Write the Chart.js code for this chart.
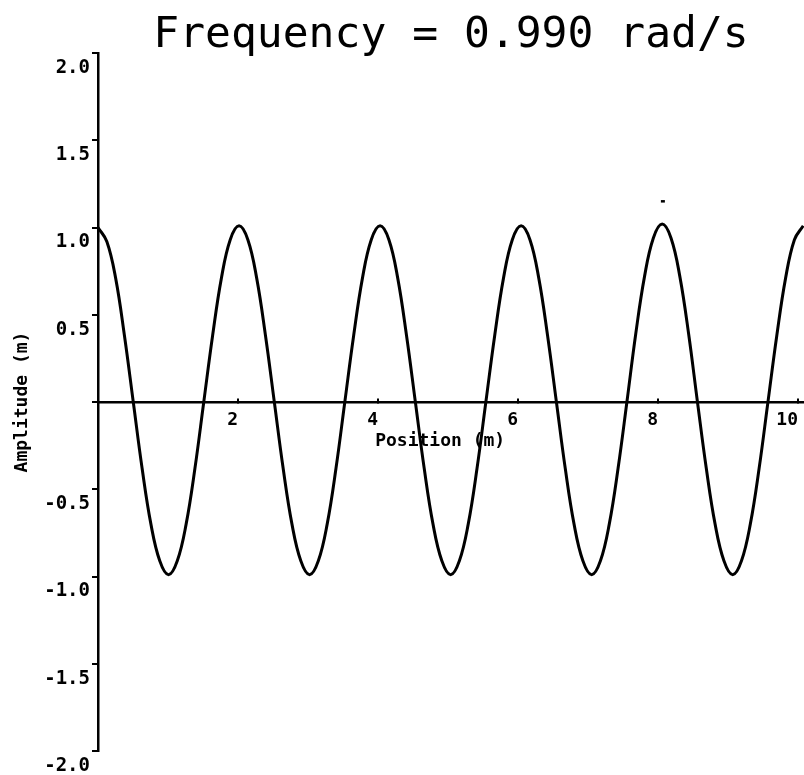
<!DOCTYPE html>
<html><head><meta charset="utf-8">
<script src="https://cdn.jsdelivr.net/npm/chart.js@4/dist/chart.umd.min.js"></script>
<style>html,body{margin:0;padding:0;background:#fff;} canvas{display:block;}</style>
</head><body>
<canvas id="c" width="804" height="775"></canvas>
<script>
const titleText = 'Frequency = 0.990 rad/s';
const xTitle = 'Position (m)  ';
const yTitle = 'Amplitude (m)';
const positions = [0, 0.126, 0.252, 0.378, 0.504, 0.630, 0.756, 0.882, 1.008, 1.133, 1.259, 1.385, 1.511, 1.637, 1.763, 1.889,
  2.015, 2.141, 2.267, 2.393, 2.519, 2.645, 2.771, 2.897, 3.023, 3.148, 3.274, 3.400, 3.526, 3.652, 3.778, 3.904,
  4.030, 4.156, 4.282, 4.408, 4.534, 4.660, 4.786, 4.912, 5.038, 5.163, 5.289, 5.415, 5.541, 5.667, 5.793, 5.919,
  6.045, 6.171, 6.297, 6.423, 6.549, 6.675, 6.801, 6.927, 7.053, 7.178, 7.304, 7.430, 7.556, 7.682, 7.808, 7.934,
  8.060, 8.186, 8.312, 8.438, 8.564, 8.690, 8.816, 8.942, 9.068, 9.193, 9.319, 9.445, 9.571, 9.697, 9.823, 9.949,
  10.075];
const amplitudes = [1.00, 0.92, 0.71, 0.38, 0.00, -0.38, -0.70, -0.91, -0.99, -0.91, -0.70, -0.38, 0.00, 0.38, 0.71, 0.93,
  1.01, 0.93, 0.71, 0.38, 0.00, -0.38, -0.70, -0.91, -0.99, -0.91, -0.70, -0.38, 0.00, 0.38, 0.71, 0.93,
  1.01, 0.93, 0.71, 0.38, 0.00, -0.38, -0.70, -0.91, -0.99, -0.91, -0.70, -0.38, 0.00, 0.38, 0.71, 0.93,
  1.01, 0.93, 0.71, 0.38, 0.00, -0.38, -0.70, -0.91, -0.99, -0.91, -0.70, -0.38, 0.00, 0.39, 0.72, 0.94,
  1.02, 0.94, 0.72, 0.39, 0.00, -0.38, -0.70, -0.91, -0.99, -0.91, -0.70, -0.38, 0.00, 0.38, 0.71, 0.93,
  1.01];
const strayX = [8.07];
const strayY = [1.15];
const xTickValues = [2, 4, 6, 8, 10];
const yTickValues = [-2, -1.5, -1, -0.5, 0, 0.5, 1, 1.5, 2];

const monoBold = (size) => ({family: 'DejaVu Sans Mono', size: size, weight: 'bold'});

new Chart(document.getElementById('c'), {
  type: 'line',
  data: {
    datasets: [
      {
        data: positions.map((x, i) => ({x: x, y: amplitudes[i]})),
        borderColor: '#000', borderWidth: 3, pointRadius: 0, pointHoverRadius: 0,
        tension: 0.4, fill: false
      },
      {
        data: strayX.map((x, i) => ({x: x, y: strayY[i]})),
        showLine: false, pointRadius: 2, pointHoverRadius: 0, pointStyle: 'line',
        backgroundColor: '#000', borderColor: '#000', borderWidth: 2.5
      }
    ]
  },
  options: {
    responsive: false, animation: false, devicePixelRatio: 1,
    events: [],
    layout: {autoPadding: false, padding: {left: 0, right: 0, top: 0, bottom: 24}},
    plugins: {
      legend: {display: false}, tooltip: {enabled: false},
      title: {display: true, fullSize: false, text: titleText, color: '#000',
        font: {family: 'DejaVu Sans Mono', size: 43, weight: 'normal', lineHeight: 1.0},
        padding: {top: 14, bottom: -4}}
    },
    scales: {
      x: {
        type: 'linear', min: 0, max: 10.086, position: {y: 0},
        afterBuildTicks: s => { s.ticks = xTickValues.map(v => ({value: v})); },
        afterFit: s => { s.paddingLeft = 0; s.paddingRight = 0; },
        grid: {drawOnChartArea: false, drawTicks: true, tickLength: -5, color: '#000', lineWidth: 2},
        border: {display: true, color: '#000', width: 2.5},
        ticks: {align: 'end', padding: 13, color: '#000', font: monoBold(18), maxRotation: 0, autoSkip: false,
          callback: v => String(v)},
        title: {display: true, text: xTitle, color: '#000', font: monoBold(18), padding: {top: -14, bottom: 0}}
      },
      y: {
        type: 'linear', min: -2, max: 2,
        afterBuildTicks: s => { s.ticks = yTickValues.map(v => ({value: v})); },
        afterFit: s => { s.width = 98; },
        grid: {drawOnChartArea: false, tickLength: 6, color: '#000', lineWidth: 2},
        border: {display: true, color: '#000', width: 2.5},
        ticks: {labelOffset: 15, padding: 2, color: '#000', font: monoBold(19), autoSkip: false,
          callback: v => (v === 0 ? '' : v.toFixed(1))},
        title: {display: true, text: yTitle, color: '#000', font: monoBold(18), padding: {top: 12, bottom: 0}}
      }
    }
  }
});
</script>
</body></html>
